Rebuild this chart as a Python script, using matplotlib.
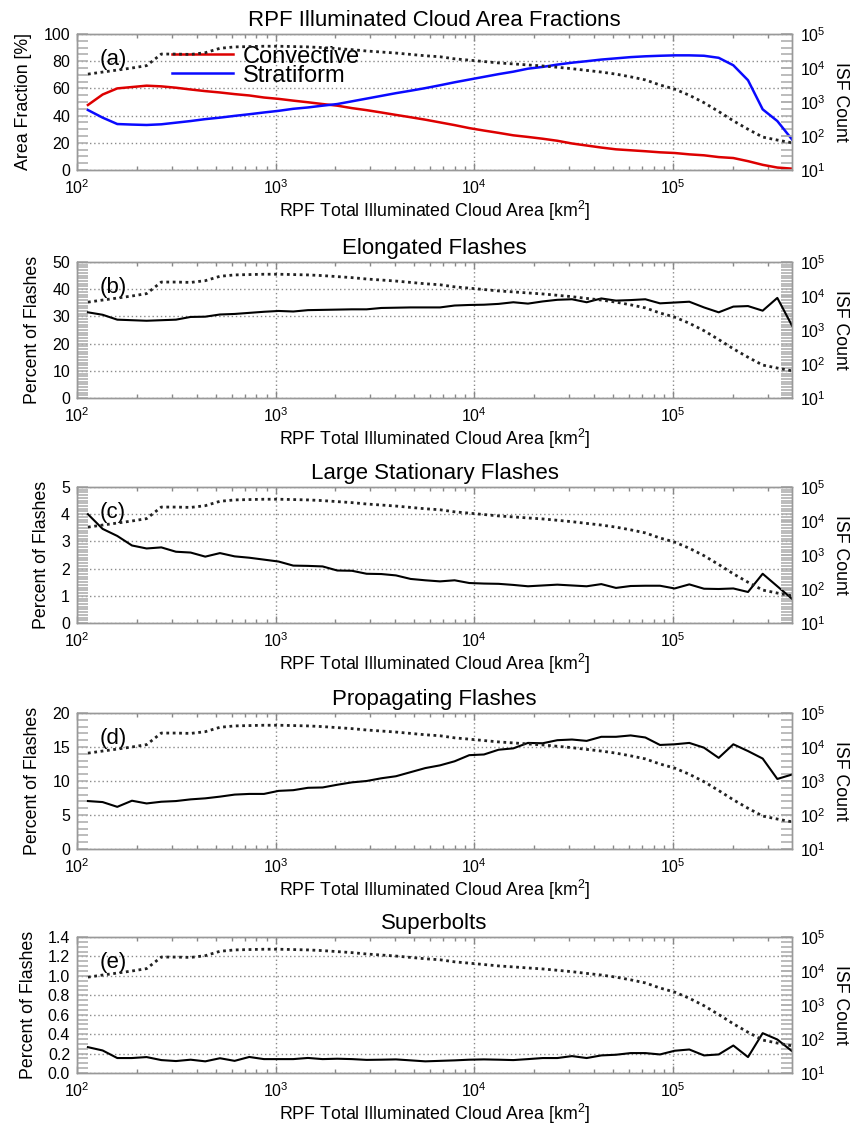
import matplotlib
matplotlib.use('Agg')
import matplotlib.pyplot as plt
from matplotlib.ticker import MultipleLocator, LogLocator, NullFormatter, FormatStrFormatter
import numpy as np

plt.rcParams['font.family'] = ['Liberation Sans', 'DejaVu Sans']
plt.rcParams['mathtext.fontset'] = 'custom'
plt.rcParams['mathtext.rm'] = 'Liberation Sans'
plt.rcParams['mathtext.it'] = 'Liberation Sans:italic'
plt.rcParams['mathtext.bf'] = 'Liberation Sans:bold'

# RPF total illuminated cloud area bin centres [km^2]
area_bins = [113.5, 134.6, 159.5, 189.1, 224.1, 265.7, 314.9, 373.3, 442.4, 524.5,
             621.6, 736.9, 873.4, 1035, 1227, 1455, 1724, 2044, 2423, 2872,
             3404, 4035, 4783, 5670, 6721, 7967, 9443, 11194, 13269, 15729,
             18644, 22101, 26197, 31054, 36810, 43634, 51721, 61310, 72672, 86150,
             102100, 121000, 143500, 170100, 201600, 239000, 283300, 335700, 398000]

# number of ISFs in each bin (dotted curve, right axis)
isf_count = [6600, 7600, 8700, 10000, 11750, 25700, 25700, 25100, 28200, 38000,
             41700, 42700, 43650, 43650, 42700, 41700, 39800, 37150, 34700, 31600,
             29500, 27500, 25100, 22900, 21400, 18600, 17000, 15500, 14100, 13200,
             12300, 11500, 10500, 9550, 8500, 7600, 6600, 5500, 4470, 3160,
             2400, 1580, 955, 525, 280, 158, 93, 76, 63]

# (a) area fractions [%]
convective = [47.8, 55.5, 60.0, 61.0, 62.0, 61.5, 60.5, 59.2, 58.0, 57.0,
              55.8, 54.8, 53.3, 52.3, 51.0, 49.8, 48.5, 47.3, 45.5, 44.0,
              42.3, 40.5, 38.8, 37.0, 35.0, 33.0, 30.8, 29.0, 27.3, 25.5,
              24.3, 23.0, 21.5, 19.5, 18.0, 16.5, 15.2, 14.5, 13.8, 13.0,
              12.5, 11.5, 10.8, 9.5, 8.8, 6.5, 3.8, 1.8, 1.0]
stratiform = [44.1, 38.5, 33.8, 33.4, 33.1, 33.6, 34.8, 36.0, 37.4, 38.5,
              39.8, 41.0, 42.3, 43.5, 45.0, 46.0, 47.3, 48.5, 50.5, 52.5,
              54.5, 56.5, 58.3, 60.2, 62.3, 64.5, 66.5, 68.5, 70.5, 72.3,
              74.5, 75.8, 77.5, 78.9, 80.0, 81.2, 82.1, 83.0, 83.6, 84.0,
              84.3, 84.3, 84.0, 82.5, 77.0, 66.0, 44.6, 36.0, 22.5]

# (b)-(e) percent of flashes
elongated = [31.5, 30.6, 28.8, 28.6, 28.4, 28.6, 28.8, 29.8, 29.9, 30.7,
             30.9, 31.3, 31.7, 32.0, 31.8, 32.3, 32.4, 32.5, 32.6, 32.6,
             33.1, 33.2, 33.3, 33.3, 33.3, 34.0, 34.2, 34.3, 34.6, 35.2,
             34.7, 35.5, 36.1, 36.3, 35.2, 36.6, 35.8, 36.0, 36.3, 34.8,
             35.1, 35.4, 33.3, 31.5, 33.6, 33.8, 32.1, 36.8, 26.6]
large_stationary = [4.0, 3.46, 3.2, 2.85, 2.74, 2.78, 2.62, 2.59, 2.44, 2.57,
                    2.45, 2.4, 2.33, 2.26, 2.11, 2.1, 2.08, 1.93, 1.92, 1.81,
                    1.8, 1.75, 1.62, 1.57, 1.53, 1.57, 1.47, 1.45, 1.44, 1.40,
                    1.35, 1.38, 1.41, 1.38, 1.35, 1.43, 1.29, 1.36, 1.37, 1.37,
                    1.27, 1.42, 1.26, 1.25, 1.27, 1.14, 1.81, 1.35, 0.89]
propagating = [7.05, 6.9, 6.2, 7.1, 6.7, 6.95, 7.05, 7.3, 7.45, 7.7,
               8.0, 8.1, 8.1, 8.55, 8.65, 9.0, 9.05, 9.45, 9.8, 10.0,
               10.4, 10.7, 11.3, 11.9, 12.3, 12.9, 13.8, 13.9, 14.6, 14.8,
               15.6, 15.55, 16.0, 16.1, 15.9, 16.5, 16.5, 16.7, 16.4, 15.3,
               15.4, 15.6, 14.9, 13.4, 15.4, 14.4, 13.3, 10.3, 10.95]
superbolts = [0.266, 0.232, 0.154, 0.154, 0.164, 0.133, 0.123, 0.137, 0.12, 0.152,
              0.125, 0.165, 0.143, 0.143, 0.143, 0.155, 0.143, 0.147, 0.143, 0.135,
              0.137, 0.14, 0.13, 0.12, 0.125, 0.13, 0.137, 0.14, 0.137, 0.133,
              0.143, 0.154, 0.154, 0.174, 0.154, 0.181, 0.188, 0.205, 0.205, 0.191,
              0.229, 0.242, 0.181, 0.191, 0.283, 0.164, 0.41, 0.345, 0.225]

titles = ['RPF Illuminated Cloud Area Fractions', 'Elongated Flashes',
          'Large Stationary Flashes', 'Propagating Flashes', 'Superbolts']
panel_tags = ['(a)', '(b)', '(c)', '(d)', '(e)']
ylabels = ['Area Fraction [%]'] + ['Percent of Flashes'] * 4
ymax = [100, 50, 5, 20, 1.4]
ymajor = [20, 10, 1, 5, 0.2]
yminor = [5, 1, 0.1, 1, 0.05]
flash_series = [None, elongated, large_stationary, propagating, superbolts]

W, H = 852, 1124
tops = [34, 262, 487, 713, 937]
ax_h = 136
left, right = 77, 792

fig = plt.figure(figsize=(W / 100, H / 100), dpi=100)

tick_grey = '#b0b0b0'
for i in range(5):
    ax = fig.add_axes([left / W, 1 - (tops[i] + ax_h) / H, (right - left) / W, ax_h / H])
    ax.set_xscale('log')
    ax.set_xlim(100, 398000)
    ax.set_ylim(0, ymax[i])

    ax2 = ax.twinx()
    ax2.set_yscale('log')
    ax2.set_ylim(10, 1e5)

    # ISF count, dotted
    ax2.plot(area_bins, isf_count, color='#222222', lw=2.0, ls=(0, (1, 1.3)))

    if i == 0:
        ax.plot(area_bins, convective, color='#dd0000', lw=1.8, label='Convective')
        ax.plot(area_bins, stratiform, color='#0a0aff', lw=1.8, label='Stratiform')
        ax.legend(loc='upper left', bbox_to_anchor=(0.133, 0.915), frameon=False,
                  fontsize=17, handlelength=2.6, handletextpad=0.4,
                  labelspacing=-0.12, borderpad=0, borderaxespad=0)
    else:
        ax.plot(area_bins, flash_series[i], color='black', lw=1.5)

    # axes styling (IDL-like, inward ticks, dotted grid)
    ax.yaxis.set_major_locator(MultipleLocator(ymajor[i]))
    ax.yaxis.set_minor_locator(MultipleLocator(yminor[i]))
    if i == 4:
        ax.yaxis.set_major_formatter(FormatStrFormatter('%.1f'))
    else:
        ax.yaxis.set_major_formatter(FormatStrFormatter('%d'))
    ax.xaxis.set_major_locator(LogLocator(base=10))
    ax.xaxis.set_minor_locator(LogLocator(base=10, subs=np.arange(2, 10)))
    ax.xaxis.set_minor_formatter(NullFormatter())

    ax.tick_params(axis='y', which='both', direction='in', left=True, right=True,
                   length=8, width=1.2, color=tick_grey, labelsize=11.5, pad=5)
    ax.tick_params(axis='x', which='major', direction='in', top=True, bottom=True,
                   length=5, width=1, color='#888888', labelsize=11.5, pad=6)
    ax.tick_params(axis='x', which='minor', direction='in', top=True, bottom=True,
                   length=3, width=1, color='#888888')
    ax2.yaxis.set_major_locator(LogLocator(base=10, numticks=10))
    ax2.yaxis.set_minor_locator(LogLocator(base=10, subs=np.arange(2, 10), numticks=10))
    ax2.yaxis.set_minor_formatter(NullFormatter())
    ax2.tick_params(axis='y', which='major', direction='in', length=8, width=1.2,
                    color=tick_grey, labelsize=11.5, pad=6)
    ax2.tick_params(axis='y', which='minor', length=0)

    ax.grid(True, which='major', ls=(0, (1, 2)), color='#8a8a8a', lw=1)

    for a in (ax, ax2):
        for sp in a.spines.values():
            sp.set_color('#999999')
            sp.set_linewidth(1)

    ax.set_title(titles[i], fontsize=16, pad=6)
    ax.set_xlabel('RPF Total Illuminated Cloud Area [km$^2$]', fontsize=12.8, labelpad=1)
    ax.set_ylabel(ylabels[i], fontsize=12.8, labelpad=8)
    ax2.set_ylabel('ISF Count', fontsize=12.8, rotation=270, va='bottom', labelpad=4)
    ax.text(0.032, 0.81, panel_tags[i], transform=ax.transAxes, fontsize=16, va='center')

fig.savefig('out.png', dpi=100)
